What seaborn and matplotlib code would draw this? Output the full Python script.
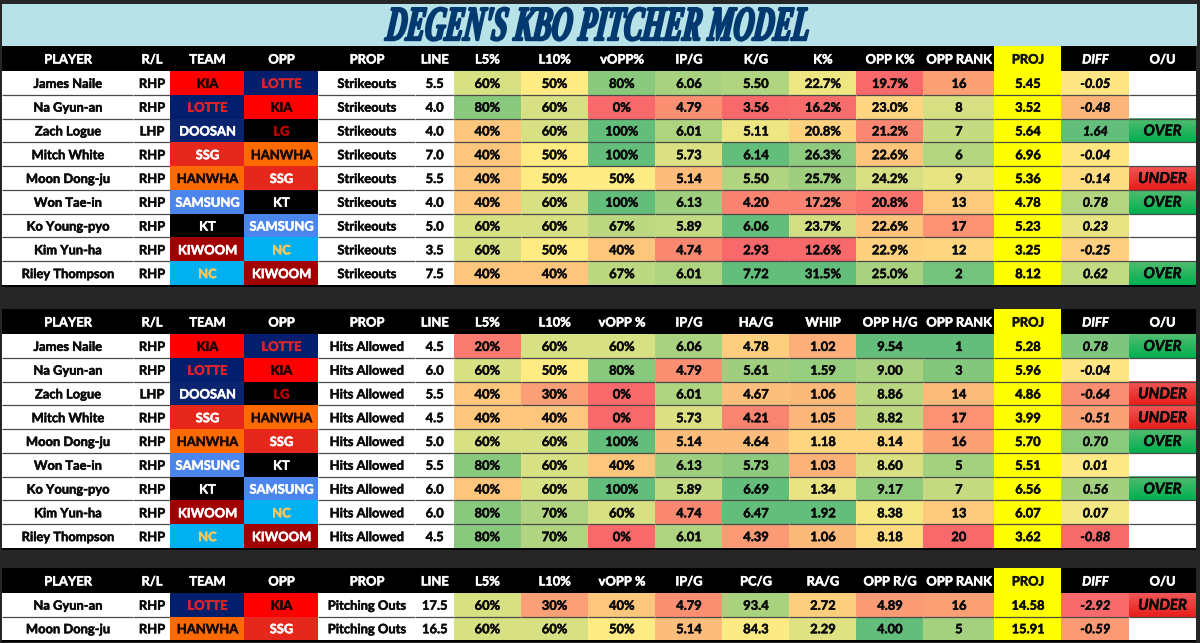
import numpy as np
import matplotlib
matplotlib.use("Agg")
import matplotlib.pyplot as plt
import matplotlib.patheffects as pe
from matplotlib.colors import LinearSegmentedColormap, ListedColormap, TwoSlopeNorm
from matplotlib.transforms import Affine2D, ScaledTranslation
import seaborn as sns

# ---------- data ----------
TITLE = "DEGEN'S KBO PITCHER MODEL"
HEAD_1 = ["PLAYER","R/L","TEAM","OPP","PROP","LINE","L5%","L10%","vOPP%","IP/G","K/G","K%","OPP K%","OPP RANK","PROJ","DIFF","O/U"]
HEAD_2 = ["PLAYER","R/L","TEAM","OPP","PROP","LINE","L5%","L10%","vOPP %","IP/G","HA/G","WHIP","OPP H/G","OPP RANK","PROJ","DIFF","O/U"]
HEAD_3 = ["PLAYER","R/L","TEAM","OPP","PROP","LINE","L5%","L10%","vOPP %","IP/G","PC/G","RA/G","OPP R/G","OPP RANK","PROJ","DIFF","O/U"]

players_a = ["James Naile","Na Gyun-an","Zach Logue","Mitch White","Moon Dong-ju","Won Tae-in","Ko Young-pyo","Kim Yun-ha","Riley Thompson"]
hands_a = ["RHP","RHP","LHP","RHP","RHP","RHP","RHP","RHP","RHP"]
teams_a = ["KIA","LOTTE","DOOSAN","SSG","HANWHA","SAMSUNG","KT","KIWOOM","NC"]
opps_a = ["LOTTE","KIA","LG","HANWHA","SSG","KT","SAMSUNG","NC","KIWOOM"]
ipg_a = [6.06,4.79,6.01,5.73,5.14,6.13,5.89,4.74,6.01]

line_1 = [5.5,4.0,4.0,7.0,5.5,4.0,5.0,3.5,7.5]
l5_1 = [60,80,40,40,40,40,60,60,40]
l10_1 = [50,60,60,50,50,60,60,50,40]
vopp_1 = [80,0,100,100,50,100,67,40,67]
kg_1 = [5.50,3.56,5.11,6.14,5.50,4.20,6.06,2.93,7.72]
kpct_1 = [22.7,16.2,20.8,26.3,25.7,17.2,23.7,12.6,31.5]
oppk_1 = [19.7,23.0,21.2,22.6,24.2,20.8,22.6,22.9,25.0]
rank_1 = [16,8,7,6,9,13,17,12,2]
proj_1 = [5.45,3.52,5.64,6.96,5.36,4.78,5.23,3.25,8.12]
diff_1 = [-0.05,-0.48,1.64,-0.04,-0.14,0.78,0.23,-0.25,0.62]
ou_1 = ["","","OVER","","UNDER","OVER","","","OVER"]

line_2 = [4.5,6.0,5.5,4.5,5.0,5.5,6.0,6.0,4.5]
l5_2 = [20,60,40,40,60,80,40,80,80]
l10_2 = [60,50,30,40,60,60,60,70,70]
vopp_2 = [60,80,0,0,100,40,100,60,0]
hag_2 = [4.78,5.61,4.67,4.21,4.64,5.73,6.69,6.47,4.39]
whip_2 = [1.02,1.59,1.06,1.05,1.18,1.03,1.34,1.92,1.06]
opph_2 = [9.54,9.00,8.86,8.82,8.14,8.60,9.17,8.38,8.18]
rank_2 = [1,3,14,17,16,5,7,13,20]
proj_2 = [5.28,5.96,4.86,3.99,5.70,5.51,6.56,6.07,3.62]
diff_2 = [0.78,-0.04,-0.64,-0.51,0.70,0.01,0.56,0.07,-0.88]
ou_2 = ["OVER","","UNDER","UNDER","OVER","","OVER","",""]

players_3 = ["Na Gyun-an","Moon Dong-ju"]
hands_3 = ["RHP","RHP"]
teams_3 = ["LOTTE","HANWHA"]
opps_3 = ["KIA","SSG"]
line_3 = [17.5,16.5]
l5_3 = [60,60]
l10_3 = [30,60]
vopp_3 = [40,50]
ipg_3 = [4.79,5.14]
pcg_3 = [93.4,84.3]
rag_3 = [2.72,2.29]
oppr_3 = [4.89,4.00]
rank_3 = [16,5]
proj_3 = [14.58,15.91]
diff_3 = [-2.92,-0.59]
ou_3 = ["UNDER",""]

# ---------- styles ----------
TEAM_FILL = {"KIA":"#FF0000","LOTTE":"#041E6E","DOOSAN":"#0A2470","LG":"#000000","SSG":"#E5281B",
             "HANWHA":"#FF6A00","SAMSUNG":"#4A86EE","KT":"#000000","KIWOOM":"#A00000","NC":"#00B0F0"}
TEAM_TEXT = {"KIA":"#1A0000","LOTTE":"#E0242A","DOOSAN":"#FFFFFF","LG":"#C00000","SSG":"#FFFFFF",
             "HANWHA":"#1A0A00","SAMSUNG":"#FFFFFF","KT":"#FFFFFF","KIWOOM":"#FFFFFF","NC":"#FFC85A"}
SCALE = LinearSegmentedColormap.from_list("s3", ["#F8696B","#FFEB84","#63BE7B"])
SCALE_R = SCALE.reversed()
PCT = (15,50,90)

W, H = 1200, 643
EDGES = [2,133,170,244,318,415,453.5,520.5,588,655,722,789,856,923,994,1061,1129,1196]

sns.set_theme(style="white")
FONT = ["Lato","DejaVu Sans"]
plt.rcParams["font.family"] = FONT
fig = plt.figure(figsize=(W/100, H/100), dpi=100, facecolor="#262626")
FS = 9.3

def axes_at(x0, x1, y0, y1):
    a = fig.add_axes([x0/W, 1-y1/H, (x1-x0)/W, (y1-y0)/H])
    a.set_axis_off()
    return a

def sep(a, n):
    if n > 1:
        a.hlines(np.arange(1, n), 0, 1, color="#4a4a4a", lw=0.9, zorder=5)
    a.set_axis_off()

def col(vals, x0, x1, y0, y1, fmt, scale=None, cmap=SCALE, color="#111111", style="normal"):
    n = len(vals)
    a = axes_at(x0, x1, y0, y1)
    m = np.array(vals, float).reshape(-1, 1)
    kws = dict(ax=a, cbar=False, annot=np.array([fmt(v) for v in vals]).reshape(-1, 1), fmt="",
               xticklabels=False, yticklabels=False,
               annot_kws=dict(color="#0A0A0A", fontsize=FS, fontweight="bold", fontstyle=style))
    if scale is None:
        sns.heatmap(m, cmap=ListedColormap([color]), **kws)
    else:
        sns.heatmap(m, cmap=cmap, norm=TwoSlopeNorm(vmin=scale[0], vcenter=scale[1], vmax=scale[2]), **kws)
    a.set_xlim(0, 1); a.set_ylim(n, 0)
    sep(a, n)

def textcol(labels, x0, x1, y0, y1):
    n = len(labels)
    a = axes_at(x0, x1, y0, y1)
    sns.heatmap(np.zeros((n, 1)), ax=a, cmap=ListedColormap(["#FFFFFF"]), cbar=False,
                annot=np.array(labels).reshape(-1, 1), fmt="", xticklabels=False, yticklabels=False,
                annot_kws=dict(color="#0A0A0A", fontsize=FS, fontweight="bold"))
    a.set_xlim(0, 1); a.set_ylim(n, 0)
    sep(a, n)

def teamcol(names, x0, x1, y0, y1):
    n = len(names)
    keys = list(TEAM_FILL)
    a = axes_at(x0, x1, y0, y1)
    sns.heatmap(np.array([keys.index(k) for k in names], float).reshape(-1, 1), ax=a,
                cmap=ListedColormap([TEAM_FILL[k] for k in keys]), vmin=-0.5, vmax=len(keys)-0.5, cbar=False,
                annot=np.array(names).reshape(-1, 1), fmt="", xticklabels=False, yticklabels=False,
                annot_kws=dict(color="#FFFFFF", fontsize=FS, fontweight="bold"))
    for t, k in zip(a.texts, names):
        t.set_color(TEAM_TEXT[k])
    a.set_xlim(0, 1); a.set_ylim(n, 0)
    a.set_axis_off()

def oucol(labels, x0, x1, y0, y1):
    n = len(labels)
    a = axes_at(x0, x1, y0, y1)
    sns.heatmap(np.zeros((n, 1)), ax=a, cmap=ListedColormap(["#FFFFFF"]), cbar=False,
                annot=np.array(labels).reshape(-1, 1), fmt="", xticklabels=False, yticklabels=False,
                annot_kws=dict(color="#0A0A0A", fontsize=10.8, fontweight="bold", fontstyle="italic", zorder=8))
    grads = {"OVER": ("#52BC70", "#00AF50"), "UNDER": ("#F25557", "#E81F1C")}
    for i, k in enumerate(labels):
        if k in grads:
            g = LinearSegmentedColormap.from_list("g", list(grads[k]))
            a.imshow(np.linspace(0, 1, 24).reshape(-1, 1), cmap=g, aspect="auto",
                     extent=(0, 1, i+1, i), origin="upper", zorder=2)
    a.set_xlim(0, 1); a.set_ylim(n, 0)
    sep(a, n)

def header(labels, y0, y1):
    for i, lab in enumerate(labels):
        yellow = lab == "PROJ"
        a = axes_at(EDGES[i], EDGES[i+1] + (0 if i == 16 else 0.8), y0, y1)
        sns.heatmap(np.zeros((1, 1)), ax=a, cmap=ListedColormap(["#FFFF00" if yellow else "#000000"]), cbar=False,
                    annot=np.array([[lab]]), fmt="", xticklabels=False, yticklabels=False,
                    annot_kws=dict(color="#111111" if yellow else "#FFFFFF", fontsize=FS, fontweight="bold",
                                   fontstyle="italic" if lab == "DIFF" else "normal"))
        a.set_axis_off()

def table(head, players, hands, teams, opps, prop, line, cols, diff, proj, ou, hy0, y0, y1):
    e = EDGES
    over = 0.8
    header(head, hy0, y0)
    textcol(players, e[0], e[1]+over, y0, y1)
    textcol(hands, e[1], e[2]+over, y0, y1)
    teamcol(teams, e[2], e[3]+over, y0, y1)
    teamcol(opps, e[3], e[4]+over, y0, y1)
    textcol([prop]*len(players), e[4], e[5]+over, y0, y1)
    col(line, e[5], e[6]+over, y0, y1, lambda v: f"{v:.1f}", color="#FFFFFF")
    for j, (vals, fmt, sc, cm) in enumerate(cols):
        col(vals, e[6+j], e[7+j]+over, y0, y1, fmt, scale=sc, cmap=cm)
    col(proj, e[14], e[15]+over, y0, y1, lambda v: f"{v:.2f}", color="#FFFF00")
    col(diff[0], e[15], e[16]+over, y0, y1, lambda v: f"{v:.2f}", scale=diff[1], style="italic")
    oucol(ou, e[16], e[17], y0, y1)
    base = axes_at(e[0], e[17], y1, y1+1.6)
    sns.heatmap(np.zeros((1, 1)), ax=base, cmap=ListedColormap(["#000000"]), cbar=False, xticklabels=False, yticklabels=False)
    base.set_axis_off()

p0 = lambda v: f"{v:.0f}%"
p1 = lambda v: f"{v:.1f}%"
f2 = lambda v: f"{v:.2f}"
f1 = lambda v: f"{v:.1f}"
f0 = lambda v: f"{v:.0f}"
IP = (4.5,5.5,6.5)
RANK = (1,10.5,20)

table(HEAD_1, players_a, hands_a, teams_a, opps_a, "Strikeouts", line_1,
      [(l5_1,p0,PCT,SCALE),(l10_1,p0,PCT,SCALE),(vopp_1,p0,PCT,SCALE),(ipg_a,f2,IP,SCALE),
       (kg_1,f2,(4,5,6),SCALE),(kpct_1,p1,(16,22,28),SCALE),(oppk_1,p1,(20.5,23.5,26.2),SCALE),(rank_1,f0,RANK,SCALE_R)],
      (diff_1,(-1.2,0,1.6)), proj_1, ou_1, 46, 71, 285)
table(HEAD_2, players_a, hands_a, teams_a, opps_a, "Hits Allowed", line_2,
      [(l5_2,p0,PCT,SCALE),(l10_2,p0,PCT,SCALE),(vopp_2,p0,PCT,SCALE),(ipg_a,f2,IP,SCALE),
       (hag_2,f2,(4,5,6),SCALE),(whip_2,f2,(0.72,1.27,1.75),SCALE),(opph_2,f2,(7.3,8.3,9.55),SCALE),(rank_2,f0,RANK,SCALE_R)],
      (diff_2,(-0.9,0,0.95)), proj_2, ou_2, 309, 334, 548)
table(HEAD_3, players_3, hands_3, teams_3, opps_3, "Pitching Outs", line_3,
      [(l5_3,p0,PCT,SCALE),(l10_3,p0,PCT,SCALE),(vopp_3,p0,PCT,SCALE),(ipg_3,f2,IP,SCALE),
       (pcg_3,f1,(70,84,101),SCALE),(rag_3,f2,(1.5,2.5,3.5),SCALE_R),(oppr_3,f2,(4.0,4.4,5.2),SCALE_R),(rank_3,f0,RANK,SCALE_R)],
      (diff_3,(-0.95,0,1)), proj_3, ou_3, 568, 593, 640)

# nudge the cell text down one pixel and thicken it a little
nudge = ScaledTranslation(0, -1/100, fig.dpi_scale_trans)
for a in fig.axes:
    for t in a.texts:
        t.set_transform(t.get_transform() + nudge)
        t.set_path_effects([pe.withStroke(linewidth=0.35, foreground=t.get_color())])

class Condensed(pe.AbstractPathEffect):
    """Draws the text narrower than the font's own width, with heavier stems and more slant."""
    def __init__(self, sx, skew, lw, colour):
        super().__init__()
        self.sx, self.skew, self.lw, self.colour = sx, skew, lw, colour
    def draw_path(self, renderer, gc, tpath, affine, rgbFace=None):
        g = renderer.new_gc()
        g.copy_properties(gc)
        g.set_linewidth(self.lw)
        g.set_foreground(self.colour)
        renderer.draw_path(g, tpath, Affine2D().scale(self.sx, 1).skew_deg(self.skew, 0) + affine, rgbFace)
        g.restore()

# title band
tb = axes_at(2, 1197, 4, 46)
sns.heatmap(np.zeros((1, 1)), ax=tb, cmap=ListedColormap(["#B7E3E8"]), cbar=False, xticklabels=False, yticklabels=False)
tb.set_axis_off()
t = tb.text((385-2)/1195, (46-40)/42, TITLE, transform=tb.transAxes, ha="left", va="baseline",
            family=["Liberation Serif"], fontsize=35, fontweight="bold", fontstyle="italic",
            color="#023A70")
t.set_path_effects([Condensed(0.575, 7, 1.7, "#023A70")])

fig.savefig("out.png", dpi=100, facecolor=fig.get_facecolor())
